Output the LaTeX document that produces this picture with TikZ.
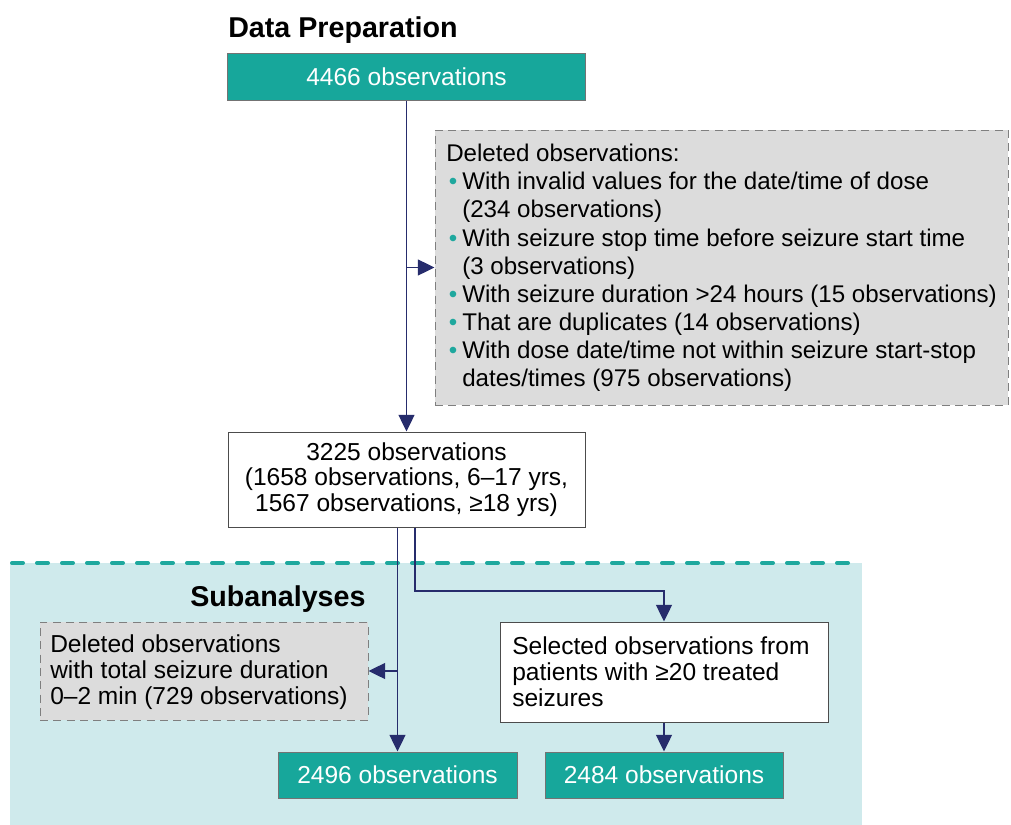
\documentclass[tikz,border=0pt]{standalone}
\usepackage{fontspec}
\setmainfont{Liberation Sans}
\usetikzlibrary{arrows.meta,calc}
\definecolor{tealbox}{HTML}{17A79B}
\definecolor{tealbg}{HTML}{CFEAEC}
\definecolor{tealdash}{HTML}{1FA89E}
\definecolor{navy}{HTML}{262C6C}
\definecolor{grayfill}{HTML}{DCDCDC}
\definecolor{grayline}{HTML}{7F7F7F}
\newcommand{\mytxt}{\fontsize{18.4}{21.1}\selectfont}
\newcommand{\mybul}{\makebox[12pt][l]{\hspace{2pt}\textcolor{tealdash}{\textbullet}}}
\newcommand{\myind}{\hspace*{12pt}}
\begin{document}
\begin{tikzpicture}[x=0.75pt,y=-0.75pt,
  tealnode/.style={draw=black!55, line width=0.75pt, fill=tealbox, text=white, inner sep=0pt, font=\mytxt},
  whitenode/.style={draw=black!70, fill=white, line width=0.75pt, inner sep=0pt},
  graynode/.style={draw=grayline, dash pattern=on 6pt off 4pt, fill=grayfill, line width=0.75pt, inner sep=0pt},
  plaintext/.style={inner sep=0pt, align=left, anchor=west},
  arr/.style={draw=navy, line width=0.9pt, -{Triangle[length=12.5pt,width=12pt]}},
  heading/.style={font=\fontsize{21.5}{24}\selectfont\bfseries, inner sep=0pt, anchor=base west}]

\useasboundingbox (0,0) rectangle (1011,825);
\fill[white] (0,0) rectangle (1011,825);
\fill[tealbg] (10,563) rectangle (862,825);
\draw[tealdash, line width=3pt, line cap=round, dash pattern=on 8.25pt off 10.5pt] (12,563) -- (860,563);

\node[heading] (title) at (228,37) {Data Preparation};
\node[tealnode, minimum width=268.5pt, minimum height=35.25pt] (obs4466) at (406.5,76.5) {4466 observations};

\node[graynode, minimum width=429.75pt, minimum height=206.25pt] (del) at (721.5,267.5) {};
\node[plaintext, font=\fontsize{18.1}{21.1}\selectfont] (deltext) at (446,268) {Deleted observations:\\
\mybul With invalid values for the date/time of dose\\
\myind (234 observations)\\
\mybul With seizure stop time before seizure start time\\
\myind (3 observations)\\
\mybul With seizure duration >24 hours (15 observations)\\
\mybul That are duplicates (14 observations)\\
\mybul With dose date/time not within seizure start-stop\\
\myind dates/times (975 observations)};

\node[whitenode, minimum width=267.75pt, minimum height=71.25pt, align=center, font=\fontsize{18.4}{19.1}\selectfont] (obs3225) at (406.5,479.5) {3225 observations\\(1658 observations, 6–17 yrs,\\1567 observations, ≥18 yrs)};

\node[heading] (sub) at (190,606) {Subanalyses};

\node[graynode, minimum width=246pt, minimum height=73.5pt] (del2) at (204,671) {};
\node[plaintext, font=\fontsize{18.4}{19.5}\selectfont] (del2text) at (50,672) {Deleted observations\\with total seizure duration\\0–2 min (729 observations)};

\node[whitenode, minimum width=246pt, minimum height=75pt] (sel) at (664,672) {};
\node[plaintext, font=\fontsize{18.4}{19.5}\selectfont] (seltext) at (512,672) {Selected observations from\\patients with ≥20 treated\\seizures};

\node[tealnode, minimum width=179.25pt, minimum height=34.5pt] (obs2496) at (397.5,775) {2496 observations};
\node[tealnode, minimum width=178.5pt, minimum height=34.5pt] (obs2484) at (664,775) {2484 observations};

\coordinate (b1) at (406.5,267.5);
\coordinate (b2) at (415,591);

\draw[arr] (obs4466) -- (obs3225);
\draw[arr] (b1) -- (del.west);
\draw[arr] (obs3225.south -| obs2496.north) -- (obs2496.north);
\draw[arr] (del2.east -| obs2496.north) -- (del2.east);
\draw[arr] (obs3225.south -| b2) -- (b2) -| (sel.north);
\draw[arr] (sel.south) -- (obs2484.north);
\end{tikzpicture}
\end{document}
